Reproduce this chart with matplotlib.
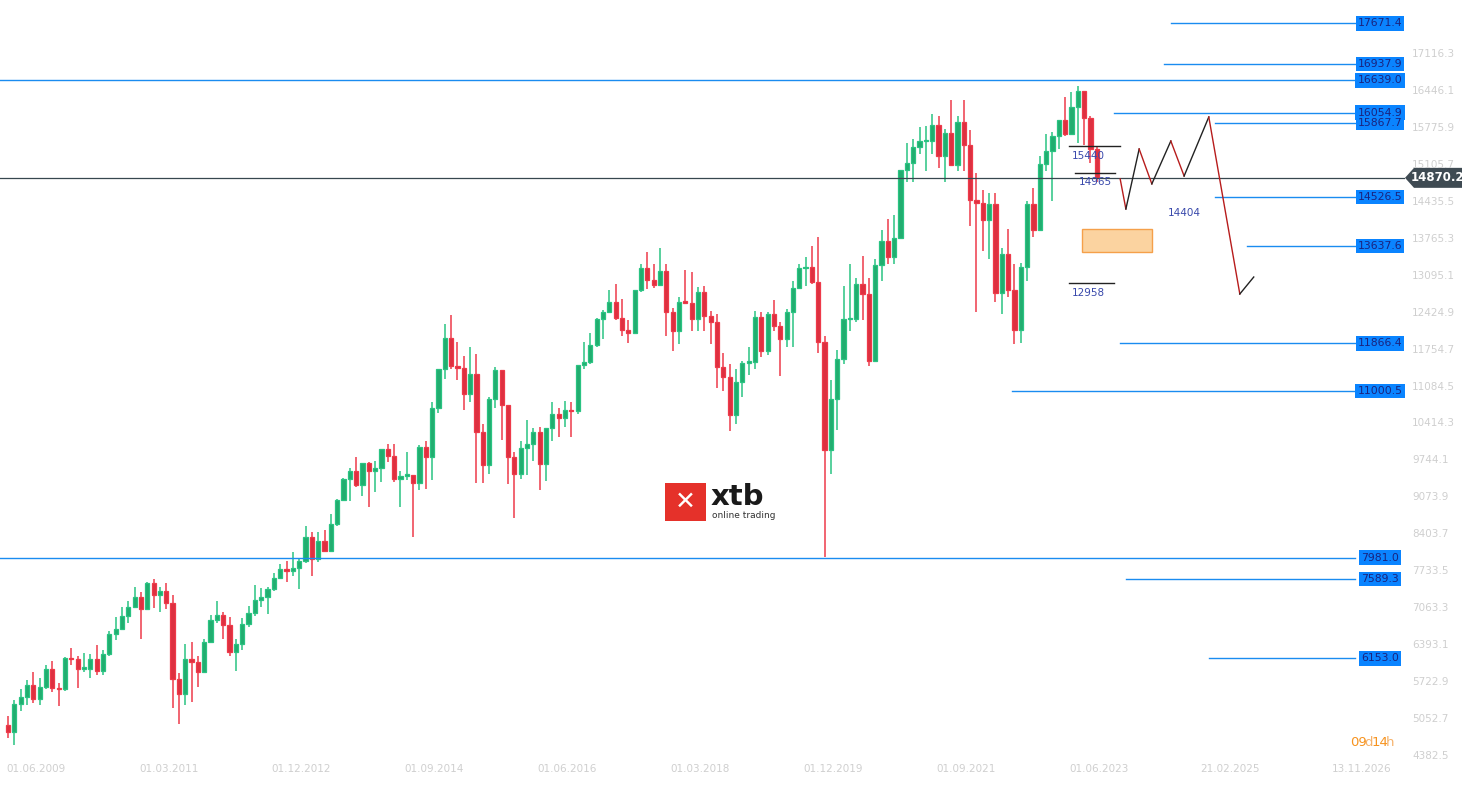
import matplotlib
matplotlib.use("Agg")
import matplotlib.pyplot as plt
from matplotlib.patches import Rectangle, Polygon
import numpy as np

closes = [4809,5332,5458,5675,5414,5625,5957,
5608,5598,6153,6135,5964,5966,6148,5925,6229,6601,6688,6914,
7077,7272,7041,7514,7294,7376,7159,5785,5502,6141,6089,5898,
6458,6856,6947,6761,6264,6416,6772,6970,7216,7260,7405,7612,
7776,7741,7795,7914,8349,7959,8276,8103,8594,9033,9406,9552,
9306,9692,9556,9603,9943,9833,9407,9470,9474,9326,9980,9806,
10694,11402,11966,11454,11413,10945,11309,10259,9660,10850,11382,10743,
9798,9495,9966,10039,10263,9680,10337,10593,10511,10665,10640,11481,
11535,11834,12313,12438,12615,12325,12118,12056,12829,13230,13024,12918,
13189,12436,12097,12612,12605,12306,12806,12364,12247,11447,11257,10559,
11173,11516,11526,12344,11727,12399,12189,11939,12428,12867,13236,13249,
12982,11890,9936,10862,11587,12311,12313,12945,12761,11556,13291,13719,
13433,13786,15008,15136,15421,15531,15544,15835,15260,15688,15100,15885,
15471,14461,14415,14098,14388,12784,13484,12835,12114,13253,14397,13924,
15128,15365,15629,15922,15664,16148,16447,15947,15387,14870]
first_open = 4940
highs = [5100,5400,5600,5760,5900,5800,6030,
6100,5700,6180,6340,6200,6250,6240,6400,6300,6650,6900,7090,
7190,7440,7350,7530,7600,7450,7520,7300,5880,6420,6450,6200,
6500,6940,7190,7000,6900,6500,6880,7100,7480,7430,7450,7700,
7870,7920,8080,7960,8560,8440,8450,8480,8770,9050,9420,9600,
9800,9700,9710,9740,9960,10050,10050,9550,9890,9430,10030,10090,
10800,11400,12220,12390,11900,11640,11800,11670,10400,10900,11430,11300,
10490,9900,10100,10480,10330,10350,10340,10800,10700,10830,10800,11480,
11890,12050,12320,12480,12840,12950,12680,12300,12840,13300,13530,13300,
13600,13300,12500,12700,13200,13170,12890,12900,12450,12400,11700,11500,
11400,11550,11800,12450,12430,12440,12650,12250,12490,12990,13310,13430,
13640,13800,12000,11200,11750,12900,13300,13050,13460,13050,13400,13930,
14130,14200,15010,15500,15570,15800,15810,16030,16000,15750,16290,16000,
16290,15740,14950,14650,14600,14600,13600,13950,13300,13330,14450,14680,
15270,15660,15710,15900,16330,16430,16530,16100,15990,15450]
lows = [4700,4580,5200,5300,5350,5300,5600,
5540,5290,5560,6030,5610,5900,5800,5850,5860,6200,6480,6680,
6800,7060,6510,7060,7060,6990,7050,5250,4970,5300,5370,5630,
5900,6490,6800,6500,6200,5920,6300,6720,6930,7080,6950,7370,
7600,7540,7650,7420,7890,7650,7900,8100,8080,8550,9000,9000,
9260,9100,8900,9170,9350,9720,9350,8900,9390,8350,9200,9220,
9380,10600,11220,11400,11200,10650,10800,9340,9330,9500,10700,10120,
9310,8700,9400,9480,9730,9210,9370,10100,10170,10350,10170,10580,
11400,11500,11800,11950,12450,12300,12000,11870,12050,12800,12850,12870,
12900,12000,11730,11860,12600,12100,12100,12100,11850,11050,11000,10280,
10400,10900,11300,11400,11620,11660,12100,11270,11800,11800,12900,12900,
12950,11700,7990,9500,10300,11500,12100,12250,12300,11450,11550,12990,
13300,13300,13800,14800,14800,15300,15000,15300,15050,14800,15100,15000,
15000,14000,12440,13550,13400,12620,12400,12700,11860,11870,13000,13790,
13900,15000,14450,15400,15630,15730,15500,15470,15140,14800]

yticks = [4382.5,5052.7,5722.9,6393.1,7063.3,7733.5,8403.7,9073.9,9744.1,10414.3,
          11084.5,11754.7,12424.9,13095.1,13765.3,14435.5,15105.7,15775.9,16446.1,17116.3]
xtick_idx = [0,21,42,63,84,105,126,147,168,188.7,209.4]
xtick_labels = ["01.06.2009","01.03.2011","01.12.2012","01.09.2014","01.06.2016","01.03.2018",
                "01.12.2019","01.09.2021","01.06.2023","21.02.2025","13.11.2026"]

levels = [17671.4,16937.9,16639.0,16054.9,15867.7,14526.5,13637.6,11866.4,11000.5,7981.0,7589.3,6153.0]
level_start = [183.7,182.6,None,174.7,190.7,190.7,195.7,175.7,158.6,None,176.6,189.7]
current = 14870.2

marks = [(15440,167.6,175.6),(14965,168.6,174.9),(12958,167.6,174.7)]
mark_labels = ["15440","14965","12958"]
zig_x = [175.7,176.6,178.7,180.7,183.7,185.8,189.7,194.6,196.8]
zig_y = [14849,14305,15393,14760,15538,14903,15974,12763,13071]

W, H = 1472, 787
fig = plt.figure(figsize=(W/100, H/100), dpi=100)
ax = fig.add_axes([0, 17/787, 1405/1472, 770/787])
px = 6.33
x0 = -8/px
ax.set_xlim(x0, x0 + 1405/px)
ax.set_ylim(4128, 18096)
ax.axis("off")

green_f, green_e = "#21ad6f", "#2ac382"
red_f, red_e = "#dd3040", "#ee3a4a"
opens = [first_open] + closes[:-1]
for i, (o, h, l, c) in enumerate(zip(opens, highs, lows, closes)):
    up = c >= o
    fc, ec = (green_f, green_e) if up else (red_f, red_e)
    ax.vlines(i, l, h, color=ec, lw=1.1, zorder=2)
    b0, b1 = min(o, c), max(o, c)
    ax.add_patch(Rectangle((i-0.33, b0), 0.66, max(b1-b0, 25), facecolor=fc, edgecolor=ec, lw=0.9, zorder=3))

def fy(v):
    return 1-(756-(v-4382.5)/18.14)/H

xr = x0 + 1355/px
for v, s in zip(levels, level_start):
    xs = x0 if s is None else s
    ax.plot([xs, xr], [v, v], color="#1a8cf0", lw=1.0, zorder=4)
    fig.text(1380/W, fy(v), f"{v:.1f}", ha="center", va="center",
             fontsize=7.8, color="#1a237e",
             bbox=dict(boxstyle="square,pad=0.2", fc="#0a84ff", ec="none"))
ax.plot([x0, x0+1405/px], [current, current], color="#37474f", lw=0.9, zorder=4)
yc = fy(current)
fig.patches.append(Polygon([[1405/W, yc], [1414/W, yc+10/H], [1462/W, yc+10/H], [1462/W, yc-10/H], [1414/W, yc-10/H]],
                           closed=True, transform=fig.transFigure, fc="#3f4b53", ec="none"))
fig.text(1437/W, yc, f"{current:.1f}", ha="center", va="center", fontsize=8.5, color="white", weight="bold")

for (v, a, b), t in zip(marks, mark_labels):
    ax.plot([a, b], [v, v], color="#222222", lw=1.0, zorder=5)
    ax.text(a+0.5, v-80, t, ha="left", va="top", fontsize=7.5, color="#3949ab", zorder=5)
ax.text(183.2, 14330, "14404", ha="left", va="top", fontsize=7.5, color="#3949ab")
for k in range(len(zig_x)-1):
    col = "#b71c1c" if zig_y[k+1] < zig_y[k] else "#222222"
    ax.plot(zig_x[k:k+2], zig_y[k:k+2], color=col, lw=1.0, zorder=5)
ax.add_patch(Rectangle((169.6, 13525), 11.1, 417, facecolor="#fbd3a0", edgecolor="#f5a04a", lw=1, zorder=4))

for v in yticks:
    fig.text(1412/W, fy(v), f"{v:.1f}", ha="left", va="center", fontsize=7.5, color="#cfcfcf")
for xi, t in zip(xtick_idx, xtick_labels):
    fig.text((xi*px+6)/W, 1-769/H, t, ha="left", va="center", fontsize=7.5, color="#cfcfcf")
fig.text(1350/W, 1-742/H, "09", ha="left", va="center", fontsize=9.5, color="#f7931e")
fig.text(1364/W, 1-742/H, "d", ha="left", va="center", fontsize=9.5, color="#f6b26b")
fig.text(1372/W, 1-742/H, "14", ha="left", va="center", fontsize=9.5, color="#f7931e")
fig.text(1386/W, 1-742/H, "h", ha="left", va="center", fontsize=9.5, color="#f6b26b")

fig.patches.append(Rectangle((665/W, 1-521/H), 41/W, 38/H, transform=fig.transFigure, fc="#e5312a", ec="none"))
fig.text(685.5/W, 1-502/H, "✕", ha="center", va="center", fontsize=18, color="white", weight="bold")
fig.text(711/W, 1-497/H, "xtb", ha="left", va="center", fontsize=21, color="#1a1a1a", weight="bold")
fig.text(712/W, 1-516/H, "online trading", ha="left", va="center", fontsize=6.5, color="#333333")

fig.savefig("out.png", dpi=100)
